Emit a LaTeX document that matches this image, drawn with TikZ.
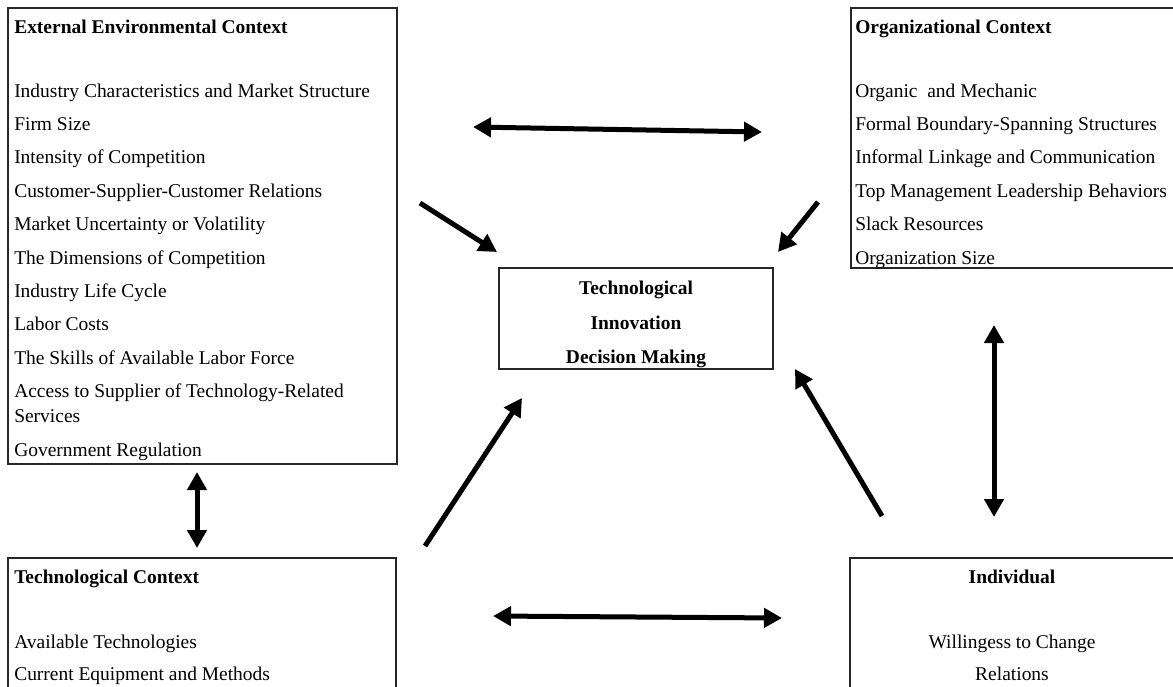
\documentclass[tikz,border=0pt]{standalone}
\usepackage{fontspec}
\setmainfont{Liberation Serif}
\usetikzlibrary{arrows.meta,fit}

\begin{document}
\begin{tikzpicture}[x=0.75pt,y=-0.75pt,
	box/.style={draw=black!85,line width=0.8pt,inner sep=0pt},
	txt/.style={inner sep=0pt,anchor=base west,align=flush left,text width=#1,font=\fontsize{14.6}{18.75}\selectfont},
	ctxt/.style={inner sep=0pt,anchor=base,align=flush center,text width=#1,font=\fontsize{14.6}{18.75}\selectfont},
	tip/.style={-{Triangle[width=14.25pt,length=13.5pt]}},
	link/.style={line width=3.75pt,tip},
	both/.style={line width=3.75pt,{Triangle[width=14.25pt,length=13.5pt]}-{Triangle[width=14.25pt,length=13.5pt]}}]
	\useasboundingbox (0,0) rectangle (1173,686);

	% the five boxes
	\node[box,fit={(8,8) (397,464)}] (ext) {};
	\node[box,fit={(851,8) (1175,268)}] (org) {};
	\node[box,fit={(499,268) (773,369)}] (tid) {};
	\node[box,fit={(8,558) (396,690)}] (tec) {};
	\node[box,fit={(850,558) (1175,690)}] (ind) {};

	\node[txt=285pt] (exttxt) at (14,33) {\textbf{External Environmental Context}\\[29.25pt]
		Industry Characteristics and Market Structure\\[6.3pt]
		Firm Size\\[6.3pt]
		Intensity of Competition\\[6.3pt]
		Customer-Supplier-Customer Relations\\[6.3pt]
		Market Uncertainty or Volatility\\[6.3pt]
		The Dimensions of Competition\\[6.3pt]
		Industry Life Cycle\\[6.3pt]
		Labor Costs\\[6.3pt]
		The Skills of Available Labor Force\\[6.3pt]
		Access to Supplier of Technology-Related\\
		Services\\[6.3pt]
		Government Regulation};
	\node[txt=250pt] (orgtxt) at (855,33) {\textbf{Organizational Context}\\[29.25pt]
		Organic\ \ and Mechanic\\[6.3pt]
		Formal Boundary-Spanning Structures\\[6.3pt]
		Informal Linkage and Communication\\[6.3pt]
		Top Management Leadership Behaviors\\[6.3pt]
		Slack Resources\\[6.3pt]
		Organization Size};
	\node[ctxt=200pt,font=\fontsize{14.6}{18.75}\selectfont\bfseries] (tidtxt) at (636,294) {Technological\\[7.5pt]
		Innovation\\[7pt]
		Decision Making};
	\node[txt=285pt] (tectxt) at (14,583) {\textbf{Technological Context}\\[30pt]
		Available Technologies\\[5.25pt]
		Current Equipment and Methods};
	\node[ctxt=235pt] (indtxt) at (1012,583) {\textbf{Individual}\\[30pt]
		Willingess to Change\\[5.25pt]
		Relations};

	% arrow ends
	\coordinate (eo1) at (473,127);
	\coordinate (eo2) at (762,132);
	\coordinate (et1) at (197,472);
	\coordinate (et2) at (197,548);
	\coordinate (oi1) at (994,325);
	\coordinate (oi2) at (994,517);
	\coordinate (ti1) at (493,616);
	\coordinate (ti2) at (782,618);
	\coordinate (ex) at (420,203);
	\coordinate (ex') at (497,252);
	\coordinate (or) at (818,202);
	\coordinate (or') at (778,252);
	\coordinate (te) at (425,546);
	\coordinate (te') at (522,398);
	\coordinate (in) at (882,516);
	\coordinate (in') at (795,369);

	% two-way links between the contexts
	\draw[both] (eo1) -- (eo2);
	\draw[both] (et1) -- (et2);
	\draw[both] (oi1) -- (oi2);
	\draw[both] (ti1) -- (ti2);
	% links into the decision box
	\draw[link] (ex) -- (ex');
	\draw[link] (or) -- (or');
	\draw[link] (te) -- (te');
	\draw[link] (in) -- (in');
\end{tikzpicture}
\end{document}
